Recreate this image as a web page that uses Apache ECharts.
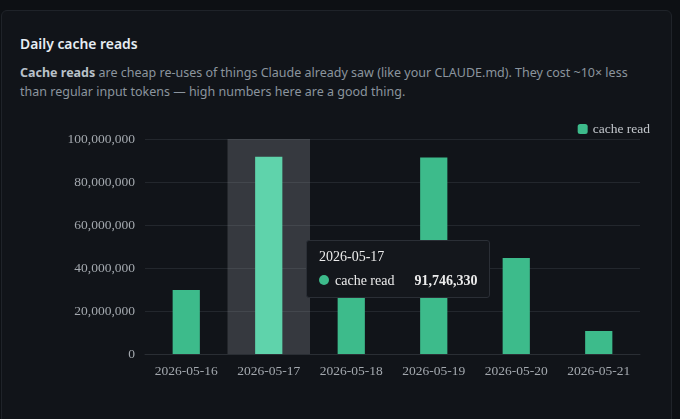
<!DOCTYPE html>
<html>
<head>
<meta charset="utf-8">
<script src="https://cdn.jsdelivr.net/npm/echarts@6/dist/echarts.min.js"></script>
<style>
html,body{margin:0;padding:0;width:680px;height:419px;overflow:hidden;background:#0d1014;}
#card{position:absolute;left:1px;top:10px;width:671px;height:420px;background:#111419;border:1px solid #1f2329;border-radius:6px;box-sizing:border-box;}
#title{position:absolute;left:20px;top:34px;font-family:"Noto Sans","Liberation Sans",sans-serif;font-size:13.9px;font-weight:600;color:#e6edf3;}
#sub{position:absolute;left:20px;top:63px;width:628px;font-family:"Noto Sans","Liberation Sans",sans-serif;font-size:12.5px;line-height:19px;color:#8b949e;}
#sub b{color:#b9c1c9;font-weight:700;}
#chart{position:absolute;left:0;top:0;width:680px;height:419px;}
</style>
</head>
<body>
<div id="card"></div>
<div id="title">Daily cache reads</div>
<div id="sub"><b>Cache reads</b> are cheap re-uses of things Claude already saw (like your CLAUDE.md). They cost ~10× less than regular input tokens — high numbers here are a good thing.</div>
<div id="chart"></div>
<script>
var categories = ['2026-05-16','2026-05-17','2026-05-18','2026-05-19','2026-05-20','2026-05-21'];
var cacheRead = [29800000, 91746330, 33000000, 91400000, 44700000, 10700000];
var seriesName = 'cache read';
var yTicks = [0, 20000000, 40000000, 60000000, 80000000, 100000000];

var chart = echarts.init(document.getElementById('chart'), null, {renderer:'canvas'});
var serif = '"Liberation Serif","DejaVu Serif",serif';
chart.setOption({
  animation:false,
  backgroundColor:'transparent',
  textStyle:{fontFamily:serif},
  legend:{
    data:[seriesName], right:25, top:117, icon:'roundRect', itemWidth:10, itemHeight:10, itemGap:8,
    textStyle:{color:'#c2c6cb', fontSize:13.5, fontFamily:serif}
  },
  grid:{left:145, right:40, top:139, bottom:65},
  tooltip:{
    trigger:'axis', alwaysShowContent:true,
    axisPointer:{type:'shadow', z:1, shadowStyle:{color:'rgba(150,155,160,0.28)'}},
    position:function(){return [306,240];},
    backgroundColor:'#14171c', borderColor:'#2b2f36', borderWidth:1, padding:[9,12],
    textStyle:{color:'#ececec', fontSize:14, fontFamily:serif},
    extraCssText:'box-shadow:none;border-radius:3px;'
  },
  xAxis:{
    type:'category', data:categories,
    axisLine:{lineStyle:{color:'#2a2e34'}},
    axisTick:{show:false},
    axisLabel:{color:'#a3a8ae', fontSize:13.5, margin:10, fontFamily:serif}
  },
  yAxis:{
    type:'value', min:yTicks[0], max:yTicks[yTicks.length-1], interval:20000000,
    splitLine:{lineStyle:{color:'#23272d'}},
    axisLabel:{color:'#a3a8ae', fontSize:13.5, margin:10, fontFamily:serif,
      formatter:function(v){return v.toLocaleString('en-US');}}
  },
  series:[{
    name:seriesName, type:'bar', data:cacheRead, barWidth:'33%', z:3,
    itemStyle:{color:'#3dbb8b'},
    emphasis:{itemStyle:{color:'#5fd3ab'}}
  }]
});
chart.dispatchAction({type:'showTip', seriesIndex:0, dataIndex:1});
chart.dispatchAction({type:'highlight', seriesIndex:0, dataIndex:1});
</script>
</body>
</html>
